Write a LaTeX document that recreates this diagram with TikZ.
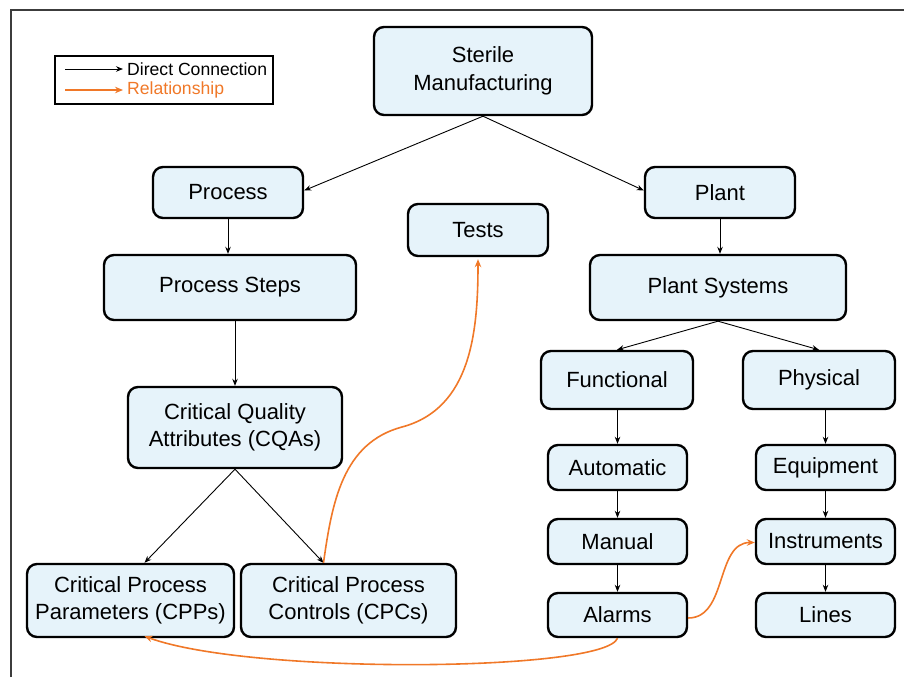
\documentclass[tikz,border=0pt]{standalone}
\usepackage{fontspec}
\setmainfont{Liberation Sans}
\usetikzlibrary{arrows.meta,calc}
\definecolor{boxfill}{RGB}{230,243,250}
\definecolor{relorange}{RGB}{240,120,40}
\definecolor{framegray}{RGB}{60,60,60}
\tikzset{
  box/.style={draw=black, fill=boxfill, line width=2.4pt, rounded corners=10pt,
    align=center, inner sep=0pt, font=\fontsize{22}{27.5}\selectfont},
  conn/.style={line width=0.9pt, -{Stealth[length=7pt,width=5.5pt]}},
  rel/.style={draw=relorange, line width=1.6pt, -{Stealth[length=8pt,width=6.5pt]}},
}
\begin{document}
\begin{tikzpicture}[x=1pt,y=-1pt]
  \useasboundingbox (0,0) rectangle (904,677);
  % page frame (left and top edges)
  \draw[framegray, line width=2pt] (11,677) -- (11,10) -- (904,10);

  % legend
  \node[draw=black, line width=1.5pt, minimum width=218pt, minimum height=48pt, inner sep=0pt] (legend) at (164,80) {};
  \coordinate (la1) at (65,69);  \coordinate (la2) at (123,69);
  \coordinate (lb1) at (65,90);  \coordinate (lb2) at (123,90);
  \draw[conn] (la1) -- (la2);
  \draw[rel] (lb1) -- (lb2);
  \node[anchor=west, inner sep=0pt, font=\fontsize{17.6}{20}\selectfont] (ltxt1) at (127,69) {Direct Connection};
  \node[anchor=west, inner sep=0pt, text=relorange, font=\fontsize{17.6}{20}\selectfont] (ltxt2) at (127,90) {Relationship};

  % boxes
  \node[box, minimum width=218pt, minimum height=88pt] (sm) at (483,71) {Sterile\\Manufacturing};
  \node[box, minimum width=150pt, minimum height=51pt] (process) at (228,192.5) {Process};
  \node[box, minimum width=150pt, minimum height=51pt] (plant) at (720,192.5) {Plant};
  \node[box, minimum width=140pt, minimum height=52pt] (tests) at (478,230) {Tests};
  \node[box, minimum width=252pt, minimum height=65pt] (steps) at (230,287.5) {Process Steps};
  \node[box, minimum width=256pt, minimum height=65pt] (systems) at (718,287.5) {Plant Systems};
  \node[box, minimum width=214pt, minimum height=81pt] (cqa) at (235,427.5) {Critical Quality\\Attributes (CQAs)};
  \node[box, minimum width=152pt, minimum height=58pt] (functional) at (617,380) {Functional};
  \node[box, minimum width=152pt, minimum height=58pt] (physical) at (819,380) {\strut Physical};
  \node[box, minimum width=139pt, minimum height=45pt] (automatic) at (617.5,467.5) {Automatic};
  \node[box, minimum width=139pt, minimum height=45pt] (equipment) at (825.5,467.5) {\strut Equipment};
  \node[box, minimum width=139pt, minimum height=45pt] (manual) at (617.5,541.5) {Manual};
  \node[box, minimum width=139pt, minimum height=45pt] (instruments) at (825.5,541.5) {Instruments};
  \node[box, minimum width=139pt, minimum height=44pt] (alarms) at (617.5,615) {Alarms};
  \node[box, minimum width=139pt, minimum height=44pt] (lines) at (825.5,615) {Lines};
  \node[box, minimum width=207pt, minimum height=73pt] (cpp) at (130.5,600.5) {Critical Process\\Parameters (CPPs)};
  \node[box, minimum width=215pt, minimum height=73pt] (cpc) at (348.5,600.5) {Critical Process\\Controls (CPCs)};

  % direct connections
  \draw[conn] (sm.south) -- ([yshift=2pt]process.east);
  \draw[conn] (sm.south) -- ([yshift=2pt]plant.west);
  \draw[conn] (process.south) -- (process.south |- steps.north);
  \draw[conn] (plant.south) -- (plant.south |- systems.north);
  \draw[conn] (cqa.north |- steps.south) -- (cqa.north);
  \draw[conn] (systems.south) -- (functional.north);
  \draw[conn] (systems.south) -- (physical.north);
  \draw[conn] (cqa.south) -- ([xshift=14pt]cpp.north);
  \draw[conn] (cqa.south) -- ([xshift=-25pt]cpc.north);
  \draw[conn] (automatic.north |- functional.south) -- (automatic.north);
  \draw[conn] (automatic.south) -- (manual.north);
  \draw[conn] (manual.south) -- (alarms.north);
  \draw[conn] (equipment.north |- physical.south) -- (equipment.north);
  \draw[conn] (equipment.south) -- (instruments.north);
  \draw[conn] (instruments.south) -- (lines.north);

  % relationships
  \coordinate (bend) at (402,427);
  \draw[rel] ([xshift=-25pt]cpc.north) to[out=82, in=195] (bend) to[out=15, in=-90] ([yshift=-2pt]tests.south);
  \draw[rel] (alarms.south) .. controls (605,672) and (250,675) .. ([xshift=14pt,yshift=2pt]cpp.south);
  \draw[rel] ([yshift=-3pt]alarms.east) to[out=0, in=180] ([yshift=-1pt]instruments.west);
\end{tikzpicture}
\end{document}
